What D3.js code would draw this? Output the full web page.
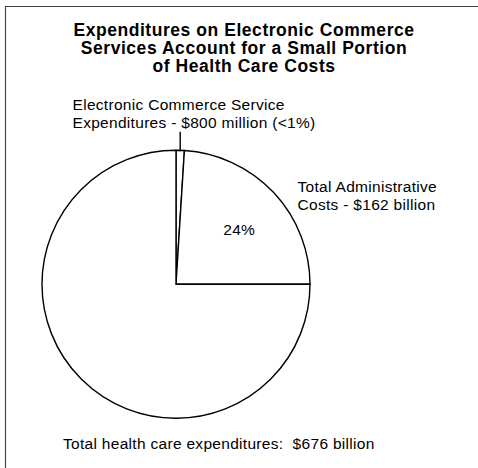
<!DOCTYPE html>
<html>
<head>
<meta charset="utf-8">
<script src="https://cdn.jsdelivr.net/npm/d3@7"></script>
<style>
  html, body { margin: 0; padding: 0; background: #fff; }
  svg { display: block; }
  text { font-family: "Liberation Sans", Arial, Helvetica, sans-serif; fill: #000; white-space: pre; }
</style>
</head>
<body>
<svg id="chart" width="478" height="468"></svg>
<script>
// Shares of total health care spending, in percent
const slices = ["E-commerce services", "Administrative costs", "Other health care"];
const shares = [1, 24, 75];

const titleLines = [
  "Expenditures on Electronic Commerce",
  "Services Account for a Small Portion",
  "of Health Care Costs"
];
const ecomLabel = ["Electronic Commerce Service", "Expenditures - $800 million (<1%)"];
const adminLabel = ["Total Administrative", "Costs - $162 billion"];
const adminPct = "24%";
const totalLabel = "Total health care expenditures:  $676 billion";

const svg = d3.select("#chart");
const W = 478, H = 468;

// frame (top and left edges visible)
svg.append("path")
  .attr("d", `M5.5,${H} V6.5 H${W}`)
  .attr("fill", "none")
  .attr("stroke", "#444")
  .attr("stroke-width", 1.2);

// title
svg.append("g")
  .selectAll("text")
  .data(titleLines)
  .join("text")
  .attr("x", 244)
  .attr("y", (d, i) => 35.5 + i * 18.4)
  .attr("text-anchor", "middle")
  .attr("font-size", 17.5)
  .attr("font-weight", "bold")
  .attr("letter-spacing", 0.55)
  .text(d => d);

// pie
const cx = 176, cy = 284.3, R = 134;
const g = svg.append("g").attr("transform", `translate(${cx},${cy})`);

const pie = d3.pie().sort(null).value(d => d)(shares);
const arc = d3.arc().innerRadius(0).outerRadius(R);

g.selectAll("path.slice")
  .data(pie)
  .join("path")
  .attr("class", "slice")
  .attr("d", arc)
  .attr("fill", "#fff")
  .attr("stroke", "#000")
  .attr("stroke-width", 1.4)
  .attr("stroke-linejoin", "miter");

// percentage inside the administrative slice
const labelArc = d3.arc().innerRadius(84).outerRadius(84);
const pAdmin = labelArc.centroid(pie[1]);
g.append("text")
  .attr("x", pAdmin[0] + 2)
  .attr("y", pAdmin[1] + 8)
  .attr("text-anchor", "middle")
  .attr("font-size", 15.5)
  .attr("letter-spacing", 0.3)
  .text(adminPct);

// leader line for the e-commerce slice
const midE = (pie[0].startAngle + pie[0].endAngle) / 2;
const ex = R * Math.sin(midE), ey = -R * Math.cos(midE);
g.append("line")
  .attr("x1", ex).attr("y1", ey + 1)
  .attr("x2", ex).attr("y2", ey - 18.5)
  .attr("stroke", "#000")
  .attr("stroke-width", 1.4);

// text labels
function block(lines, x, y0, step) {
  svg.append("g")
    .selectAll("text")
    .data(lines)
    .join("text")
    .attr("x", x)
    .attr("y", (d, i) => y0 + i * step)
    .attr("font-size", 15.5)
    .attr("letter-spacing", 0.3)
    .text(d => d);
}
block(ecomLabel, 72.5, 109.5, 18.4);
block(adminLabel, 297.5, 191.7, 18.4);
block([totalLabel], 63, 449, 0);
</script>
</body>
</html>
